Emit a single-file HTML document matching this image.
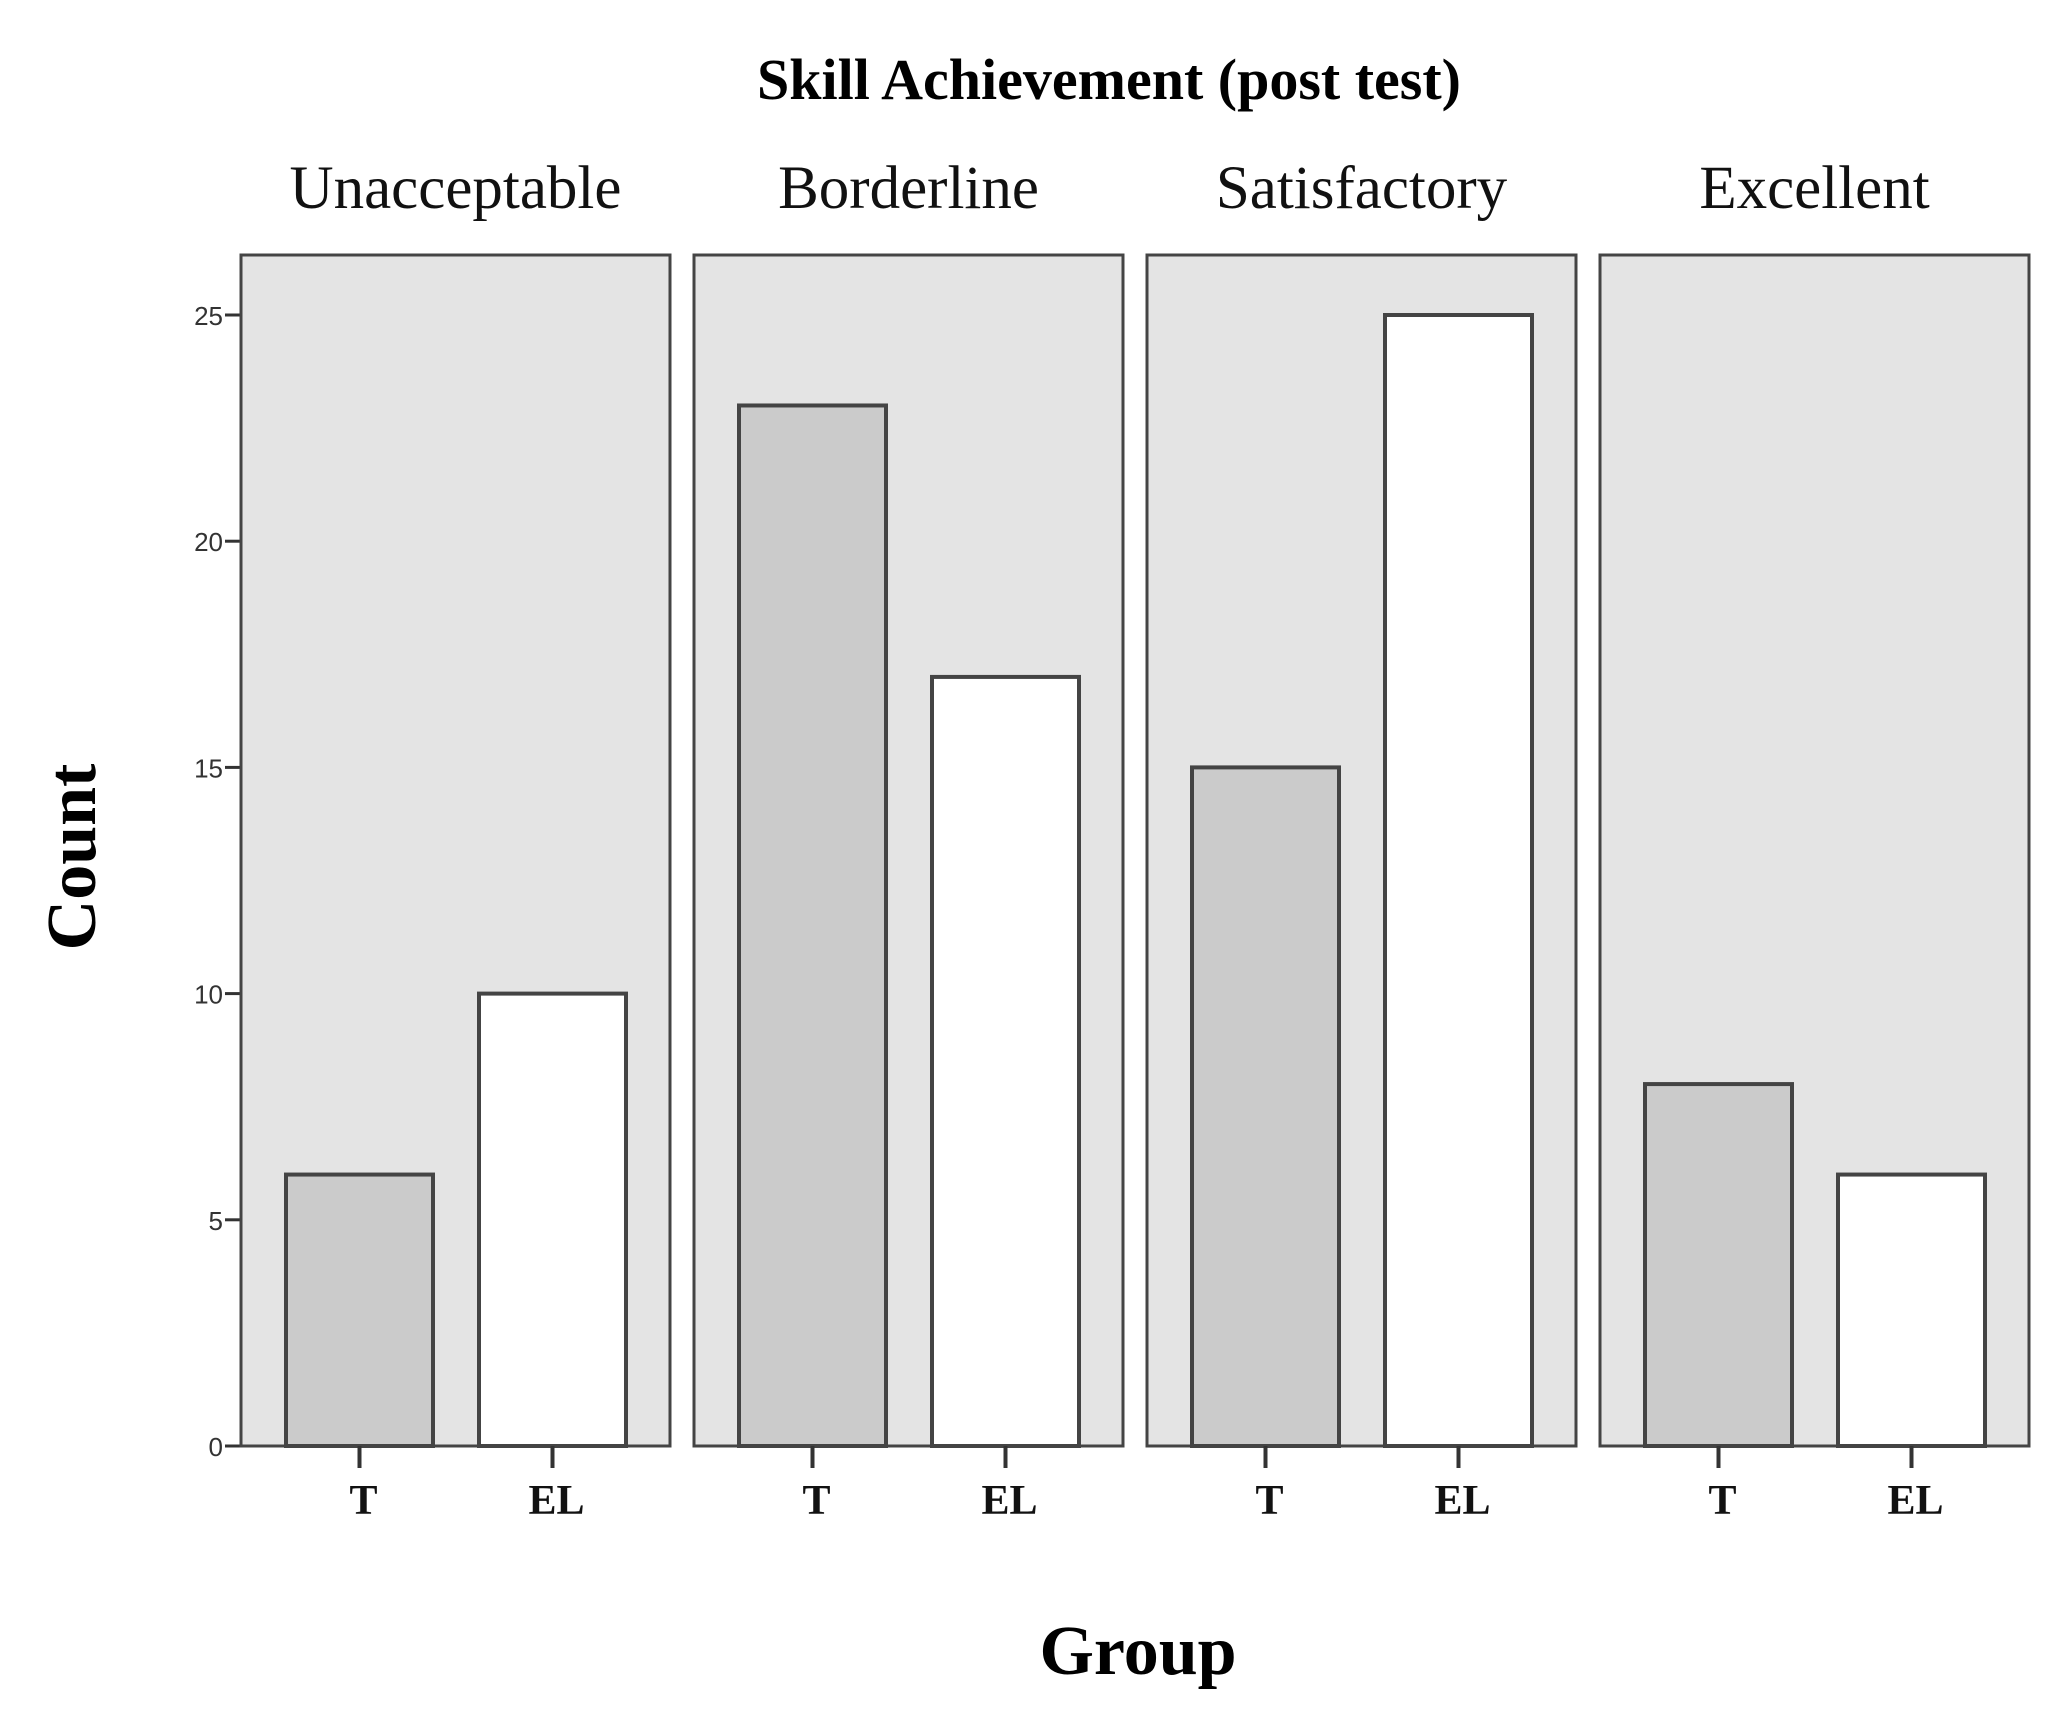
<!DOCTYPE html>
<html><head><meta charset="utf-8"><style>
html,body{margin:0;padding:0;background:#fff;}
svg{display:block;}
</style></head><body>
<svg id="chart" width="2064" height="1720" viewBox="0 0 2064 1720" xmlns="http://www.w3.org/2000/svg">
<text x="1109" y="99" text-anchor="middle" font-family="Liberation Serif, serif" font-weight="bold" font-size="58">Skill Achievement (post test)</text>
<text transform="translate(95,857) rotate(-90)" text-anchor="middle" font-family="Liberation Serif, serif" font-weight="bold" font-size="70">Count</text>
<text x="1138" y="1674" text-anchor="middle" font-family="Liberation Serif, serif" font-weight="bold" font-size="70">Group</text>
<g id="plots"></g>
</svg>
<script>
const facets = ["Unacceptable", "Borderline", "Satisfactory", "Excellent"];
const groups = ["T", "EL"];
const valuesT = [6, 23, 15, 8];
const valuesEL = [10, 17, 25, 6];
const yTicks = [0, 5, 10, 15, 20, 25];

const NS = "http://www.w3.org/2000/svg";
const plotsG = document.getElementById("plots");
const panelLeft0 = 241, panelW = 429, panelGap = 24;
const plotTop = 255, plotBottom = 1446;
function yScale(v){ return plotBottom - v * 45.24; }
function panelX(i){ return panelLeft0 + i * (panelW + panelGap); }
function mk(tag, attrs){ const e = document.createElementNS(NS, tag); for (const k in attrs) e.setAttribute(k, attrs[k]); plotsG.appendChild(e); return e; }

yTicks.forEach(t => {
  const y = yScale(t);
  const ln = mk("line", {x1: panelLeft0 - 16, x2: panelLeft0, y1: y, y2: y, stroke: "#333", "stroke-width": 3});
  
  
  const tx = mk("text", {x: panelLeft0 - 18, y: y + 10, "text-anchor": "end", "font-family": "Liberation Sans, sans-serif", "font-size": 26, fill: "#333"});
  tx.textContent = t;
  
  
});

facets.forEach((f, i) => {
  const x0 = panelX(i);
  const bg = mk("rect", {x: x0, y: plotTop, width: panelW, height: plotBottom - plotTop, fill: "#e4e4e4", stroke: "#444", "stroke-width": 3});
  
  
  const lab = mk("text", {x: x0 + panelW / 2, y: 208, "text-anchor": "middle", "font-family": "Liberation Serif, serif", "font-size": 61, fill: "#111"});
  lab.textContent = f;
  
  
  const vals = [valuesT[i], valuesEL[i]];
  groups.forEach((gr, j) => {
    const bx = x0 + 45 + j * 193;
    const bw = 147;
    const yv = yScale(vals[j]);
    const bar = mk("rect", {x: bx, y: yv, width: bw, height: plotBottom - yv, fill: j === 0 ? "#cbcbcb" : "#ffffff", stroke: "#444", "stroke-width": 4});
    
    
    const cx = bx + bw / 2;
    const tk = mk("line", {x1: cx, x2: cx, y1: plotBottom, y2: plotBottom + 22, stroke: "#333", "stroke-width": 4});
    
    
    const tl = mk("text", {x: cx + 4, y: 1514, "text-anchor": "middle", "font-family": "Liberation Serif, serif", "font-weight": "bold", "font-size": 42, fill: "#111"});
    tl.textContent = gr;
    
    
  });
});
</script>
</body></html>
